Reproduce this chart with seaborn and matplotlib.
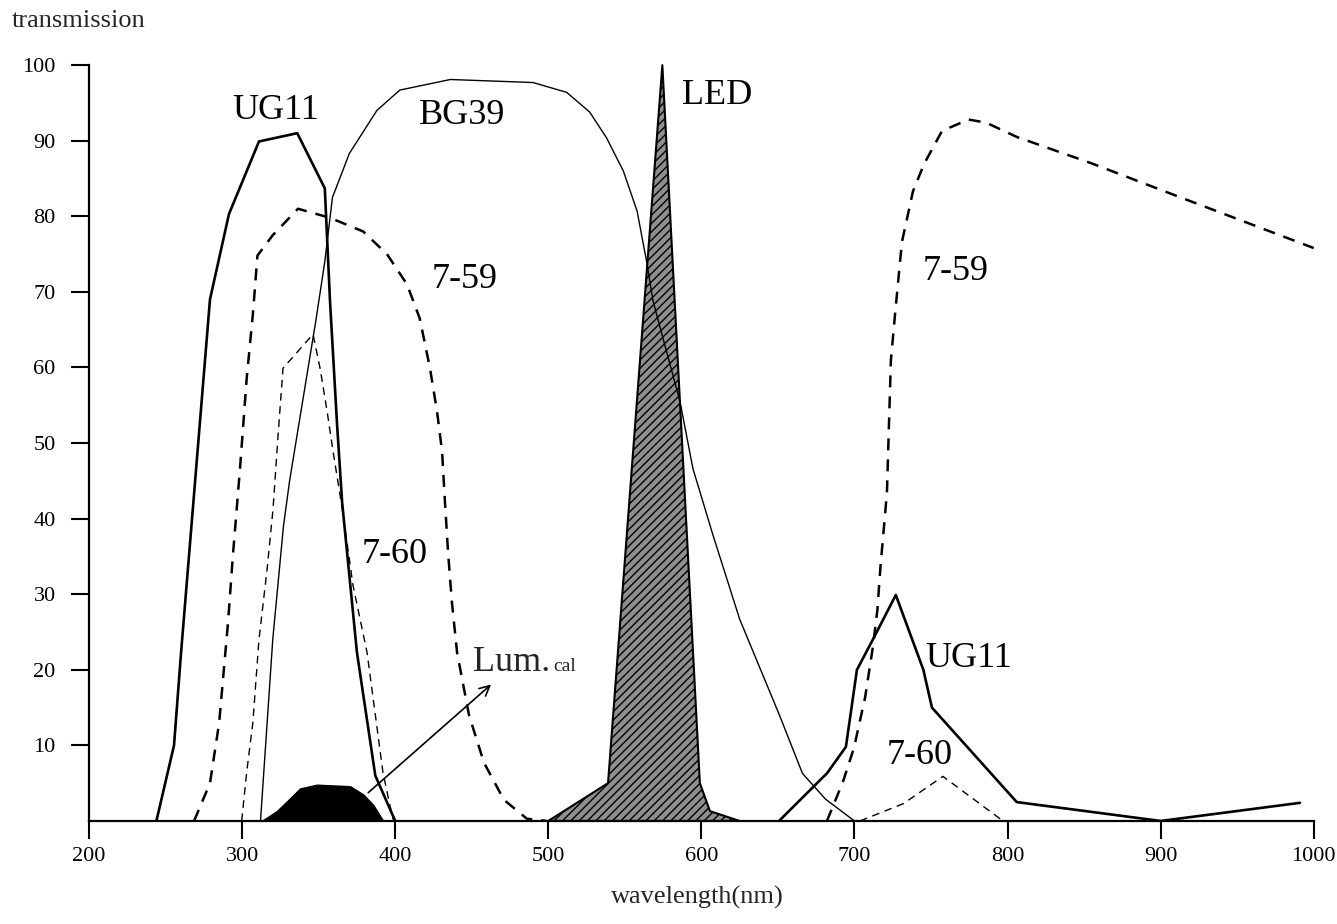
import matplotlib
matplotlib.use("Agg")
import matplotlib.pyplot as plt
import seaborn as sns
import pandas as pd

# ---------------- data (wavelength nm, transmission %) ----------------
ug11_uv_wl = [244, 255.5, 260, 279, 291.4, 311, 336, 354, 357.4, 362, 365.3, 375, 387, 400]
ug11_uv_t = [0, 10, 22, 69, 80.3, 89.9, 91, 83.7, 68.8, 52.5, 42.2, 22.3, 6, 0]
ug11_ir_wl = [650.7, 682, 694.4, 701.6, 712, 727, 745, 750.6, 806, 900, 991]
ug11_ir_t = [0, 6.3, 9.8, 20, 24, 29.9, 20, 15, 2.5, 0, 2.4]

bg39_wl = [312, 320, 327, 331, 348, 354, 359, 370, 388, 403, 436, 490, 512, 527,
           538, 549, 558, 564.5, 568.4, 586, 594.5, 607.6, 625, 651, 666, 681, 700]
bg39_t = [0, 24, 39, 45, 66, 74, 82.5, 88.3, 94, 96.7, 98.1, 97.7, 96.4, 93.8,
          90.4, 86, 80.7, 73.7, 68.8, 55.5, 46.6, 37.8, 26.7, 14, 6.3, 2.9, 0]

f759_uv_wl = [268.6, 279, 285, 290.8, 294, 298.6, 303, 307, 310, 320, 336.5, 357.4,
              379, 394.6, 407.7, 416, 422.7, 427.3, 430.6, 432.5, 434.5, 437, 440.4,
              448.2, 458, 471, 486, 499]
f759_uv_t = [0, 5, 13, 26.3, 35.2, 46.6, 58.6, 67, 74.8, 77.5, 81, 79.8,
             78, 75, 71, 66.5, 59.9, 54.2, 48.9, 42.2, 35.6, 29, 22.3,
             14, 7.7, 2.8, 0.3, 0]
f759_ir_wl = [682, 692.5, 699.7, 706.9, 712, 715, 717, 721.2, 722.5, 723.8, 726.8,
              731, 738.2, 745.4, 757.2, 774.5, 785.9, 806, 855, 913, 1000]
f759_ir_t = [0, 5.2, 9.7, 16.3, 23, 28, 33.7, 43.4, 52.3, 61, 67.7,
             76.6, 83.3, 86.9, 91.3, 92.8, 92.4, 90.5, 87, 82.5, 75.8]

f760_uv_wl = [299.7, 303, 307, 311, 316.3, 320.2, 323.5, 326.7, 346.3, 350.9, 355.5,
              359.4, 366, 372.4, 381.6, 392, 396.6, 399]
f760_uv_t = [0, 6.5, 13, 24, 33.3, 41.3, 51.1, 59.9, 64.4, 59.9, 54.2,
             48.9, 40.5, 31.2, 22.3, 6.4, 2, 0]
f760_ir_wl = [703.6, 732, 757.8, 797]
f760_ir_t = [0, 2.3, 5.9, 0]

led_wl = [500, 539, 574.5, 599, 605.6, 625]
led_t = [0, 5, 100, 5, 1.3, 0]

lum_wl = [312.8, 322.6, 331.3, 337.8, 348.7, 370.5, 379.2, 385.7, 392.2]
lum_t = [0, 1.3, 3.0, 4.3, 4.8, 4.6, 3.5, 2.1, 0]

x_ticks = [200, 300, 400, 500, 600, 700, 800, 900, 1000]
y_ticks = [10, 20, 30, 40, 50, 60, 70, 80, 90, 100]

# ---------------- style ----------------
sns.set_theme(style="white")
plt.rcParams["font.family"] = ["Liberation Serif", "DejaVu Serif"]
plt.rcParams["axes.edgecolor"] = "black"

fig = plt.figure(figsize=(13.37, 9.24), dpi=100)
ax = fig.add_axes([0.0666, 0.1115, 0.916, 0.818])

# LED (filled)
ax.fill_between(led_wl, led_t, 0, facecolor="#8f8f8f", edgecolor="black",
                linewidth=1.5, hatch="////", clip_on=False, zorder=1)
# Lum. cal (black blob)
ax.fill_between(lum_wl, lum_t, 0, facecolor="black", edgecolor="black",
                linewidth=1, zorder=2)

def line(wl, t, lw, ls):
    df = pd.DataFrame({"wl": wl, "t": t})
    sns.lineplot(data=df, x="wl", y="t", ax=ax, color="black", linewidth=lw,
                 linestyle=ls, estimator=None, sort=False, zorder=3)

thick_dash = (0, (4.8, 3.6))
thin_dash = (0, (5.5, 4.0))
line(ug11_uv_wl, ug11_uv_t, 1.9, "-")
line(ug11_ir_wl, ug11_ir_t, 1.9, "-")
line(bg39_wl, bg39_t, 1.0, "-")
line(f759_uv_wl, f759_uv_t, 1.8, thick_dash)
line(f759_ir_wl, f759_ir_t, 1.8, thick_dash)
line(f760_uv_wl, f760_uv_t, 1.0, thin_dash)
line(f760_ir_wl, f760_ir_t, 1.0, thin_dash)

# arrow for Lum.cal
ax.annotate("", xy=(464, 18.3), xytext=(381, 3.5),
            arrowprops=dict(arrowstyle="->", lw=1.2, color="black",
                            mutation_scale=18), zorder=4)

# curve labels
lab = dict(fontsize=26, color="black", ha="center", va="center")
ax.text(322, 94, "UG11", **lab)
ax.text(444, 93.4, "BG39", **lab)
ax.text(610, 96, "LED", **lab)
ax.text(445.6, 71.6, "7-59", **lab)
ax.text(399.9, 35.3, "7-60", **lab)
ax.text(766.3, 72.7, "7-59", **lab)
ax.text(774.8, 21.5, "UG11", **lab)
ax.text(742.8, 8.7, "7-60", **lab)
ax.text(450.8, 19.8, "Lum.", fontsize=26, ha="left", va="baseline")
ax.text(503.5, 19.8, "cal", fontsize=14, ha="left", va="baseline")

# axes
ax.set_xlim(200, 1000)
ax.set_ylim(0, 100)
ax.set_xticks(x_ticks)
ax.set_xticklabels([str(v) for v in x_ticks])
ax.set_yticks(y_ticks)
ax.set_yticklabels([str(v) for v in y_ticks])
ax.xaxis.get_major_ticks()[0].tick1line.set_visible(False)
ax.tick_params(axis="both", which="major", labelsize=16, direction="out",
               length=13, width=1.5, color="black", labelcolor="black")
ax.tick_params(axis="x", pad=6, bottom=True)
ax.tick_params(axis="y", pad=11, left=True)
for s in ["top", "right"]:
    ax.spines[s].set_visible(False)
for s in ["left", "bottom"]:
    ax.spines[s].set_linewidth(1.6)
    ax.spines[s].set_color("black")
ax.set_xlabel("")
ax.set_ylabel("")
ax.grid(False)
ax.set_facecolor("white")

fig.text(12 / 1337, 1 - 27 / 924, "transmission", fontsize=19, ha="left",
         va="baseline")
fig.text(697 / 1337, 1 - 897 / 924, "wavelength(nm)", fontsize=19,
         ha="center", va="center")

fig.savefig("out.png", dpi=100, facecolor="white")
